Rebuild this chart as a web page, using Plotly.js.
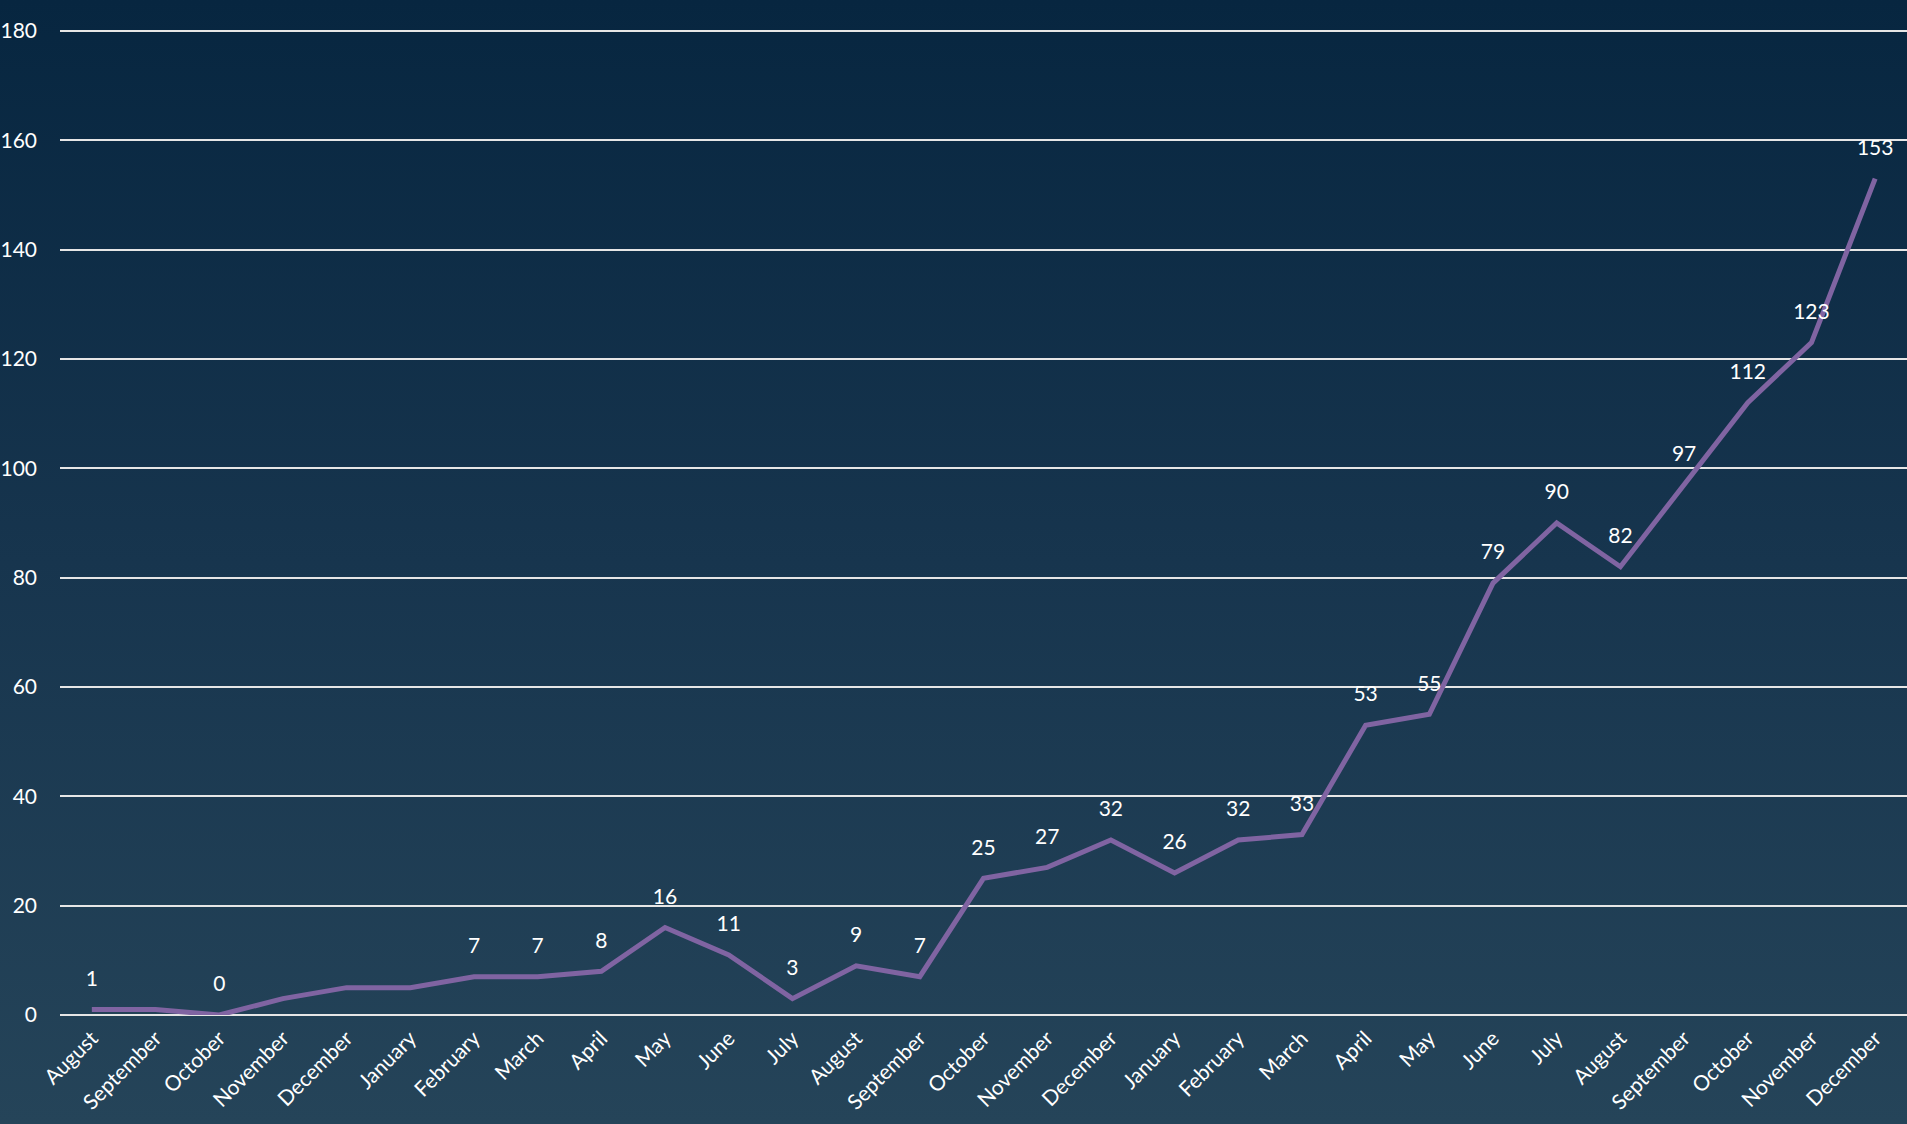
<!DOCTYPE html>
<html>
<head>
<meta charset="utf-8">
<script src="https://cdn.plot.ly/plotly-3.0.1.min.js"></script>
<style>
  html, body { margin: 0; padding: 0; }
  body { width: 1907px; height: 1124px; background: linear-gradient(to bottom, #072640 0%, #17354e 50%, #254459 100%); }
  #chart { width: 1907px; height: 1124px; }
</style>
</head>
<body>
<div id="chart"></div>
<script>
const months = ["August","September","October","November","December",
  "January","February","March","April","May","June","July","August","September","October","November","December",
  "January","February","March","April","May","June","July","August","September","October","November","December"];
const values = [1,1,0,3,5,5,7,7,8,16,11,3,9,7,25,27,32,26,32,33,53,55,79,90,82,97,112,123,153];
const labelShown = [true,false,true,false,false,false,true,true,true,true,true,true,true,true,true,true,true,true,true,true,true,true,true,true,true,true,true,true,true];
const yTicks = [0,20,40,60,80,100,120,140,160,180];

const xIdx = months.map((m, i) => i);
const labels = values.map((v, i) => labelShown[i] ? String(v) : "");

const trace = {
  x: xIdx,
  y: values,
  type: "scatter",
  mode: "lines+markers+text",
  line: { color: "#8064a2", width: 5 },
  marker: { size: 28, color: "rgba(0,0,0,0)" },
  text: labels,
  textposition: "top center",
  textfont: { family: "Lato, sans-serif", size: 21, color: "#ffffff" },
  cliponaxis: false,
  hoverinfo: "skip"
};

const layout = {
  width: 1907,
  height: 1124,
  margin: { l: 60, r: 0, t: 29, b: 109 },
  paper_bgcolor: "rgba(0,0,0,0)",
  plot_bgcolor: "rgba(0,0,0,0)",
  showlegend: false,
  font: { family: "Lato, sans-serif", color: "#ffffff" },
  xaxis: {
    type: "linear",
    range: [-0.5, months.length - 0.5],
    tickmode: "array",
    tickvals: xIdx,
    ticktext: months,
    tickangle: -45,
    tickfont: { size: 21, color: "#ffffff" },
    showgrid: false,
    zeroline: false,
    showline: false,
    ticks: "",
    ticklabelstandoff: 6
  },
  yaxis: {
    range: [0, 180.35],
    tickmode: "array",
    tickvals: yTicks,
    ticktext: yTicks.map(String),
    tickfont: { size: 21, color: "#ffffff" },
    showgrid: true,
    gridcolor: "#e6e6e6",
    gridwidth: 2,
    zeroline: true,
    zerolinecolor: "#e6e6e6",
    zerolinewidth: 2,
    showline: false,
    ticks: "",
    ticklabelstandoff: 22
  }
};

Plotly.newPlot("chart", [trace], layout, { displayModeBar: false, staticPlot: true });
</script>
</body>
</html>
